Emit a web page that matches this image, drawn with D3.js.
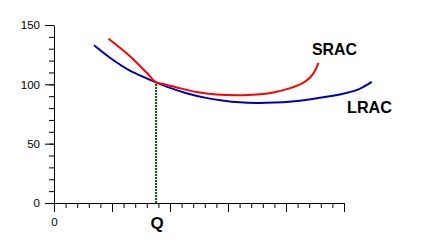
<!DOCTYPE html>
<html>
<head>
<meta charset="utf-8">
<script src="https://cdn.jsdelivr.net/npm/d3@7"></script>
<style>
  body { margin: 0; background: #fff; }
  svg { display: block; }
  .axis text { font-family: "Liberation Sans", Arial, sans-serif; font-size: 11.5px; fill: #000; }
  .curveLabel { font-family: "Liberation Sans", Arial, sans-serif; font-weight: bold; font-size: 17px; fill: #000; }
</style>
</head>
<body>
<svg id="chart" width="423" height="252"></svg>
<script>
// data (x in quantity units, y in cost)
var lracX = [3.45, 5.1, 6.55, 8.0, 8.8, 10.0, 11.5, 13.0, 14.5, 16.0, 17.5, 19.0, 20.5, 22.0, 23.5, 25.0, 26.3, 27.4];
var lracY = [133, 120.5, 111.5, 105, 101.6, 97, 92.3, 88.8, 86.4, 84.8, 84.3, 84.6, 85.6, 87.3, 89.5, 92.3, 96, 102];
var sracX = [4.7, 6.55, 8.0, 8.8, 9.4, 10.9, 12.3, 14.0, 15.8, 17.5, 19.0, 20.3, 21.4, 22.1, 22.5, 22.8];
var sracY = [138.4, 123.7, 109.7, 101.6, 100.4, 96.6, 93.5, 91.4, 90.8, 91.4, 93.4, 96.6, 100.8, 106, 111.5, 118.1];
var yTicks = [0, 50, 100, 150];
var xTickLabels = ["0"];
var qValue = 8.8;
var qCost = 101.6;

var svg = d3.select("#chart");

var x = d3.scaleLinear().domain([0, 25]).range([54, 344]);
var y = d3.scaleLinear().domain([0, 150]).range([203, 25]);

// y axis: minor ticks every 10, major every 50 with labels
svg.append("g")
  .attr("class", "axis")
  .attr("transform", "translate(54,0)")
  .call(d3.axisLeft(y).tickValues(d3.range(0, 151, 10)).tickSize(5).tickFormat(""))
  .call(function(g){ g.select(".domain").remove(); });

svg.append("g")
  .attr("class", "axis")
  .attr("transform", "translate(54,0)")
  .call(d3.axisLeft(y).tickValues(yTicks).tickSize(9).tickSizeOuter(0).tickPadding(5));

// x axis: minor every 1, major every 5
svg.append("g")
  .attr("class", "axis")
  .attr("transform", "translate(0,203)")
  .call(d3.axisBottom(x).tickValues(d3.range(0, 26, 1)).tickSize(5).tickFormat(""))
  .call(function(g){ g.select(".domain").remove(); });

svg.append("g")
  .attr("class", "axis")
  .attr("transform", "translate(0,203)")
  .call(d3.axisBottom(x).tickValues(d3.range(0, 26, 5)).tickSize(9).tickSizeOuter(0).tickPadding(6)
    .tickFormat(function(d, i){ return xTickLabels[i] || ""; }));

svg.selectAll(".axis line, .axis path").attr("stroke", "#000");

// Q guide line
svg.append("line")
  .attr("x1", x(qValue)).attr("x2", x(qValue))
  .attr("y1", y(0)).attr("y2", y(qCost))
  .attr("stroke", "#005a00")
  .attr("stroke-width", 2)
  .attr("stroke-dasharray", "2,1");

var line = d3.line()
  .x(function(d){ return x(d[0]); })
  .y(function(d){ return y(d[1]); })
  .curve(d3.curveCatmullRom);

svg.append("path")
  .datum(d3.zip(lracX, lracY))
  .attr("d", line)
  .attr("fill", "none")
  .attr("stroke", "#0000b0")
  .attr("stroke-width", 2);

svg.append("path")
  .datum(d3.zip(sracX, sracY))
  .attr("d", line)
  .attr("fill", "none")
  .attr("stroke", "#ff0000")
  .attr("stroke-width", 2);

// labels
svg.append("text").attr("class", "curveLabel")
  .attr("x", 312).attr("y", 55)
  .attr("textLength", 45).attr("lengthAdjust", "spacingAndGlyphs")
  .text("SRAC");

svg.append("text").attr("class", "curveLabel")
  .attr("x", 347).attr("y", 112.5)
  .attr("textLength", 45).attr("lengthAdjust", "spacingAndGlyphs")
  .text("LRAC");

svg.append("text").attr("class", "curveLabel")
  .attr("x", x(qValue) + 1).attr("y", 228.5)
  .attr("text-anchor", "middle")
  .attr("font-size", 17)
  .text("Q");
</script>
</body>
</html>
